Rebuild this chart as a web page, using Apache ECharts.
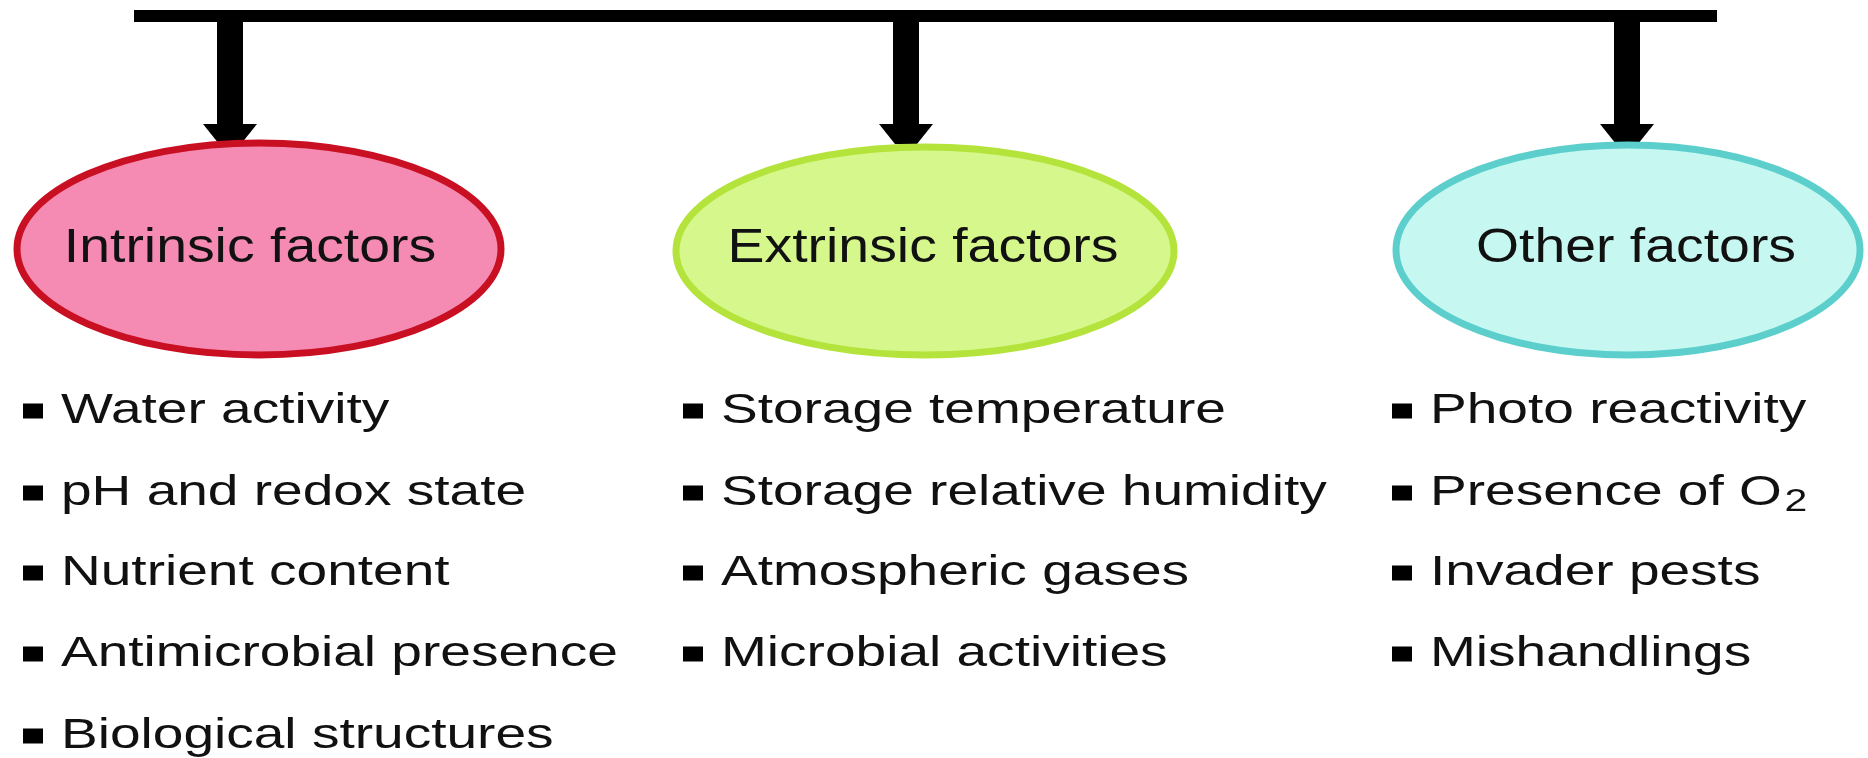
<!DOCTYPE html>
<html>
<head>
<meta charset="utf-8">
<script src="https://cdn.jsdelivr.net/npm/echarts@6/dist/echarts.min.js"></script>
<style>
  html, body { margin: 0; padding: 0; background: #fff; }
  #chart { width: 1868px; height: 758px; }
</style>
</head>
<body>
<div id="chart"></div>
<script>
// factor groups and what falls under each
const groups = ['Intrinsic factors', 'Extrinsic factors', 'Other factors'];
const intrinsicItems = ['Water activity', 'pH and redox state', 'Nutrient content', 'Antimicrobial presence', 'Biological structures'];
const extrinsicItems = ['Storage temperature', 'Storage relative humidity', 'Atmospheric gases', 'Microbial activities'];
const otherItems = ['Photo reactivity', 'Presence of O{sub|2}', 'Invader pests', 'Mishandlings'];
const groupItems = [intrinsicItems, extrinsicItems, otherItems];

// layout, in px of the 1868 x 758 frame (axes are 1:1 with it)
const barY = [10, 22];
const barX = [134, 1717];
const arrowX = [230, 906, 1627];
const ovalX = [259, 925, 1628];
const ovalY = [249, 251, 250];
const ovalRx = [242, 249, 232];
const ovalRy = [106, 104, 105];
const titleX = [250, 923, 1636];
const titleY = 248;
const listX = [23, 683, 1392];
const rowY = [411, 493, 573, 654, 736];

// styles
const ovalFill = ['#f58bb3', '#d6f78b', '#c6f8f1'];
const ovalStroke = ['#c90f22', '#b4e33c', '#5ccfcd'];
const ink = '#111111';
const fontFamily = '"Liberation Sans", Arial, Helvetica, sans-serif';

const chart = echarts.init(document.getElementById('chart'));

const listData = [];
groupItems.forEach((items, i) => {
  items.forEach((name, j) => {
    listData.push({ value: [listX[i], rowY[j]], name: name });
  });
});

const option = {
  animation: false,
  grid: { left: 0, right: 0, top: 0, bottom: 0 },
  xAxis: { type: 'value', min: 0, max: 1868, show: false },
  yAxis: { type: 'value', min: 0, max: 758, inverse: true, show: false },
  tooltip: { show: false },
  series: [
    {
      // top bar and the three arrows
      type: 'custom',
      silent: true,
      data: arrowX.map((x) => [x]),
      renderItem: function (params, api) {
        const x = api.value(0);
        const p = (a, b) => api.coord([a, b]);
        const kids = [];
        if (params.dataIndex === 0) {
          const a = p(barX[0], barY[0]);
          const b = p(barX[1], barY[1]);
          kids.push({
            type: 'rect',
            shape: { x: a[0], y: a[1], width: b[0] - a[0], height: b[1] - a[1] },
            style: { fill: '#000' }
          });
        }
        const s0 = p(x - 13, barY[1] - 2);
        const s1 = p(x + 13, 126);
        kids.push({
          type: 'rect',
          shape: { x: s0[0], y: s0[1], width: s1[0] - s0[0], height: s1[1] - s0[1] },
          style: { fill: '#000' }
        });
        kids.push({
          type: 'polygon',
          shape: { points: [p(x - 27, 124), p(x + 27, 124), p(x + 11, 144), p(x - 11, 144)] },
          style: { fill: '#000' }
        });
        return { type: 'group', children: kids };
      }
    },
    {
      // the three ovals with their titles
      type: 'custom',
      silent: true,
      data: groups.map((g, i) => ({ value: [ovalX[i], ovalY[i], i], name: g })),
      renderItem: function (params, api) {
        const i = api.value(2);
        const c = api.coord([api.value(0), api.value(1)]);
        const e = api.coord([api.value(0) + ovalRx[i], api.value(1) + ovalRy[i]]);
        const t = api.coord([titleX[i], titleY]);
        return {
          type: 'group',
          children: [
            {
              type: 'ellipse',
              shape: { cx: c[0], cy: c[1], rx: e[0] - c[0], ry: e[1] - c[1] },
              style: { fill: ovalFill[i], stroke: ovalStroke[i], lineWidth: 7 }
            },
            {
              type: 'text',
              x: t[0],
              y: t[1],
              scaleX: 1.13,
              style: {
                text: groups[i],
                fontFamily: fontFamily,
                fontSize: 49,
                fill: ink,
                align: 'center',
                verticalAlign: 'middle'
              }
            }
          ]
        };
      }
    },
    {
      // bullet lists
      type: 'custom',
      silent: true,
      data: listData,
      renderItem: function (params, api) {
        const x = api.value(0);
        const y = api.value(1);
        const b0 = api.coord([x, y - 7.5]);
        const b1 = api.coord([x + 20, y + 7.5]);
        const t = api.coord([x + 38, y]);
        return {
          type: 'group',
          children: [
            {
              type: 'rect',
              shape: { x: b0[0], y: b0[1], width: b1[0] - b0[0], height: b1[1] - b0[1] },
              style: { fill: '#000' }
            },
            {
              type: 'text',
              x: t[0],
              y: t[1],
              scaleX: 1.28,
              style: {
                text: listData[params.dataIndex].name,
                fontFamily: fontFamily,
                fontSize: 43,
                lineHeight: 50,
                fill: ink,
                align: 'left',
                verticalAlign: 'middle',
                rich: {
                  sub: { fontFamily: fontFamily, fontSize: 32, lineHeight: 6, verticalAlign: 'bottom', fill: ink, padding: [0, 0, 0, 2] }
                }
              }
            }
          ]
        };
      }
    }
  ]
};

chart.setOption(option);
</script>
</body>
</html>
